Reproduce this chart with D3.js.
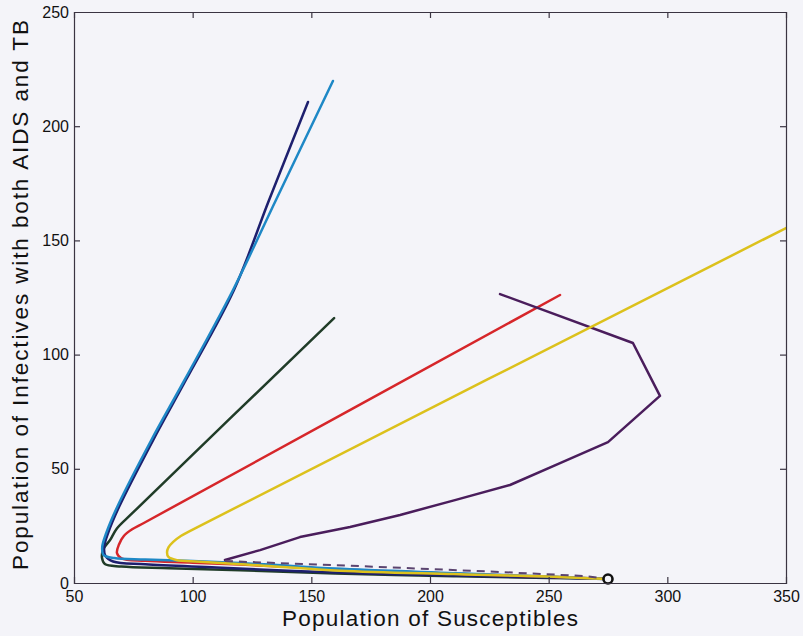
<!DOCTYPE html>
<html>
<head>
<meta charset="utf-8">
<script src="https://cdn.jsdelivr.net/npm/d3@7"></script>
<style>
  html, body { margin: 0; padding: 0; background: #f4f4f9; }
  svg { display: block; font-family: "Liberation Sans", Arial, sans-serif; }
</style>
</head>
<body>
<svg id="chart" width="803" height="636"></svg>
<script>
// Phase-plane trajectories: susceptibles S(t) vs. co-infected (AIDS + TB) I(t)
const xTicks = [50, 100, 150, 200, 250, 300, 350];
const yTicks = [0, 50, 100, 150, 200, 250];

const navyS = [148.6, 132.2, 117.4, 97.2, 83.4, 69.0, 64.4, 62.7, 63.2, 66.5, 80, 110, 160, 210, 250, 275];
const navyI = [210.6, 167.7, 128.3, 89.0, 62.7, 33.4, 22.0, 15.8, 12.0, 9.4, 8.2, 6.8, 4.6, 3.3, 2.4, 1.75];

const cyanS = [159.1, 135.1, 117.0, 96.6, 82.6, 68.2, 63.6, 61.9, 62.4, 67, 80, 100, 130, 160, 210, 250, 275];
const cyanI = [219.8, 167.7, 128.3, 88.9, 62.6, 33.3, 21.9, 15.8, 12.3, 10.9, 10.3, 9.6, 8.2, 6.3, 4.3, 2.8, 1.75];

const greenS = [159.6, 75.0, 68.0, 65.2, 63.2, 62.2, 61.8, 63, 70, 90, 120, 160, 210, 250, 275];
const greenI = [116.0, 31.0, 23.8, 18.8, 16.2, 14.4, 11.0, 8.3, 7.2, 6.5, 5.6, 4.2, 3.0, 2.2, 1.75];

const redS = [254.8, 80.0, 74.5, 71.0, 69.0, 68.1, 70, 80, 100, 130, 160, 210, 250, 275];
const redI = [126.1, 26.6, 23.5, 20.6, 17.0, 13.1, 10.8, 9.7, 8.9, 7.6, 6.0, 4.1, 2.7, 1.75];

const yellowS = [350, 100.0, 95.0, 91.8, 89.8, 89.2, 89.8, 93, 103, 130, 162, 210, 250, 275];
const yellowI = [155.4, 23.4, 20.6, 18.0, 15.6, 13.4, 11.4, 10.1, 9.3, 7.6, 5.4, 3.9, 2.8, 1.75];

const purpleS = [229.5, 285.5, 296.9, 275.0, 254.8, 233.7, 210.5, 187.4, 166.3, 145.2, 128.4, 113.6];
const purpleI = [126.5, 105.1, 81.9, 61.7, 52.5, 42.9, 36.3, 29.8, 24.5, 20.1, 14.4, 10.1];
const purpleTailS = [113.6, 166, 230, 266, 275];
const purpleTailI = [9.6, 7.6, 4.8, 3.0, 1.75];

const equilibriumS = [275];
const equilibriumI = [1.75];

const svg = d3.select("#chart");
const plotLeft = 74, plotRight = 786, plotTop = 12, plotBottom = 583;

const x = d3.scaleLinear().domain([50, 350]).range([plotLeft, plotRight]);
const y = d3.scaleLinear().domain([0, 250]).range([plotBottom, plotTop]);

svg.append("defs").append("clipPath").attr("id", "plotClip")
  .append("rect").attr("x", plotLeft).attr("y", plotTop)
  .attr("width", plotRight - plotLeft).attr("height", plotBottom - plotTop);

const zip = (a, b) => a.map((v, i) => [v, b[i]]);

const smooth = d3.line().x(d => x(d[0])).y(d => y(d[1])).curve(d3.curveCatmullRom.alpha(0.5));
const straight = d3.line().x(d => x(d[0])).y(d => y(d[1]));

const plot = svg.append("g").attr("clip-path", "url(#plotClip)");

const series = [
  { s: greenS, i: greenI, color: "#203c28", line: smooth },
  { s: navyS, i: navyI, color: "#1d1f6e", line: smooth },
  { s: redS, i: redI, color: "#d6262a", line: smooth },
  { s: cyanS, i: cyanI, color: "#1e88c6", line: smooth },
  { s: purpleS, i: purpleI, color: "#4a1d5c", line: straight },
  { s: yellowS, i: yellowI, color: "#dcc11c", line: smooth }
];

series.forEach(d => {
  plot.append("path")
    .attr("d", d.line(zip(d.s, d.i)))
    .attr("fill", "none")
    .attr("stroke", d.color)
    .attr("stroke-width", 2.5)
    .attr("stroke-linejoin", "round")
    .attr("stroke-linecap", "round");
});

plot.append("path")
  .attr("d", straight(zip(purpleTailS, purpleTailI)))
  .attr("fill", "none")
  .attr("stroke", "#5b4470")
  .attr("stroke-width", 2)
  .attr("stroke-dasharray", "8,6");

// Equilibrium point
svg.selectAll("circle.eq").data(zip(equilibriumS, equilibriumI)).enter()
  .append("circle").attr("class", "eq")
  .attr("cx", d => x(d[0])).attr("cy", d => y(d[1]))
  .attr("r", 4.5)
  .attr("fill", "#f4f4f9")
  .attr("stroke", "#111")
  .attr("stroke-width", 2.6);

// Box axes with inward ticks
const axisColor = "#3a3442";
const tickLen = 6;

const gx = svg.append("g").attr("transform", `translate(0,${plotBottom})`)
  .call(d3.axisBottom(x).tickValues(xTicks).tickSize(-tickLen).tickPadding(11).tickFormat(d3.format("d")));
const gxTop = svg.append("g").attr("transform", `translate(0,${plotTop})`)
  .call(d3.axisTop(x).tickValues(xTicks).tickSize(-tickLen).tickFormat(""));
const gy = svg.append("g").attr("transform", `translate(${plotLeft},0)`)
  .call(d3.axisLeft(y).tickValues(yTicks).tickSize(-tickLen).tickPadding(11).tickFormat(d3.format("d")));
const gyRight = svg.append("g").attr("transform", `translate(${plotRight},0)`)
  .call(d3.axisRight(y).tickValues(yTicks).tickSize(-tickLen).tickFormat(""));

[gx, gxTop, gy, gyRight].forEach(g => {
  g.select(".domain").attr("stroke", axisColor).attr("stroke-width", 1.2);
  g.selectAll(".tick line").attr("stroke", axisColor).attr("stroke-width", 1.2);
  g.selectAll(".tick text").attr("fill", "#111").style("font-size", "16px")
    .style("font-family", "'Liberation Sans', Arial, sans-serif");
});
// ticks that would sit on the box corners are dropped
gx.selectAll(".tick line").filter(d => d === 50 || d === 350).remove();
gxTop.selectAll(".tick line").filter(d => d === 50 || d === 350).remove();
gy.selectAll(".tick line").filter(d => d === 0 || d === 250).remove();
gyRight.selectAll(".tick line").filter(d => d === 0 || d === 250).remove();

gx.selectAll(".tick text").attr("dy", "0.71em").attr("y", 8);
gy.selectAll(".tick text").attr("x", -5);

svg.append("text")
  .attr("x", 430).attr("y", 626)
  .attr("text-anchor", "middle")
  .attr("textLength", 296).attr("lengthAdjust", "spacing")
  .style("font-size", "22.5px").attr("fill", "#111")
  .text("Population of Susceptibles");

svg.append("text")
  .attr("transform", "translate(28,295) rotate(-90)")
  .attr("text-anchor", "middle")
  .attr("textLength", 550).attr("lengthAdjust", "spacing")
  .style("font-size", "22.5px").attr("fill", "#111")
  .text("Population of Infectives with both AIDS and TB");
</script>
</body>
</html>
